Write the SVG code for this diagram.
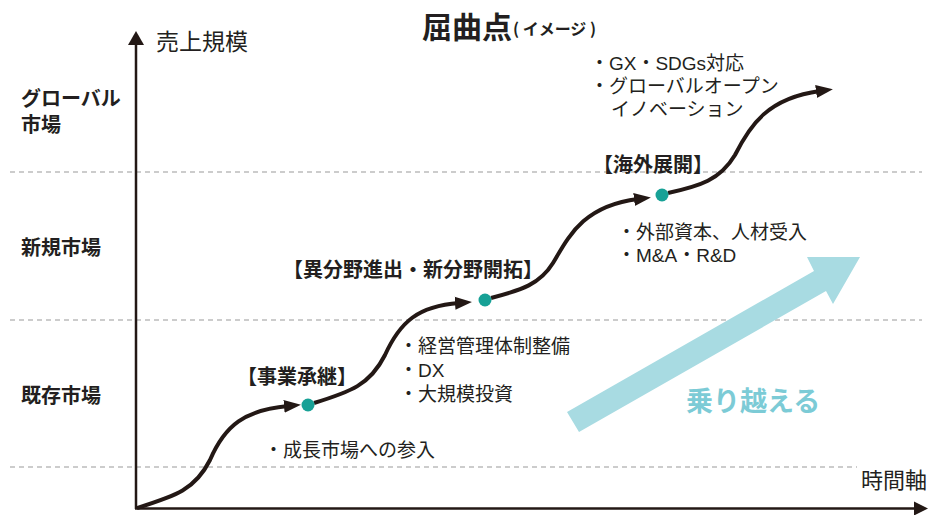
<svg xmlns="http://www.w3.org/2000/svg" width="930" height="515" viewBox="0 0 930 515">
<defs>
<style>
.t{font-family:"Noto Sans CJK JP","Noto Sans",sans-serif;fill:#231f20}
.b{font-weight:700}
.bul{font-size:19px;font-family:"Liberation Sans","Noto Sans CJK JP",sans-serif}
.brk{font-size:20px;font-weight:700}
.lbl{font-size:20px;font-weight:700}
.dash{stroke:#9a9a9a;stroke-width:1.2;stroke-dasharray:5 4;fill:none}
.curve{stroke:#231815;stroke-width:4;fill:none;marker-end:url(#ah)}
.dot{fill:#17a196}
</style>
<marker id="ah" markerUnits="userSpaceOnUse" markerWidth="18" markerHeight="16" viewBox="0 0 18 16" refX="4" refY="8" orient="auto">
<path d="M0,1.5 L17,8 L0,14.5 z" fill="#231815"/>
</marker>
</defs>
<rect width="930" height="515" fill="#fff"/>

<g id="grid">
<line class="dash" x1="10" y1="172" x2="922" y2="172"/>
<line class="dash" x1="10" y1="320" x2="922" y2="320"/>
<line class="dash" x1="10" y1="467" x2="857" y2="467"/>
</g>

<g id="axes">
<line x1="136" y1="509" x2="136" y2="44" stroke="#231815" stroke-width="2.5"/>
<path d="M136,31 L128,45 L144,45 z" fill="#231815"/>
<line x1="135" y1="508.5" x2="916" y2="508.5" stroke="#231815" stroke-width="2.5"/>
<path d="M928,508.5 L914,501.5 L914,515.5 z" fill="#231815"/>
<text class="t" x="156" y="50" font-size="23">売上規模</text>
<text class="t" x="861" y="488" font-size="22">時間軸</text>
</g>

<g id="title">
<text class="t b" x="422" y="38" font-size="30">屈曲点<tspan font-size="16" dx="1" dy="-3">( イメージ )</tspan></text>
</g>

<g id="market-labels">
<text class="t lbl"><tspan x="21" y="106">グローバル</tspan><tspan x="21" dy="26">市場</tspan></text>
<text class="t lbl" x="21" y="255">新規市場</text>
<text class="t lbl" x="21" y="403">既存市場</text>
</g>

<g id="big-arrow">
<polygon points="567,412 814,271 807,257 860,257 833,304 826,291 579,432" fill="#a8dbe2"/>
<text class="t b" x="686" y="411" font-size="27" style="fill:#7ccbd6">乗り越える</text>
</g>

<g id="connectors">
<path class="curve" d="M137,508 C175,496 195,490 210,460 C225,425 245,410 288,406"/>
<path class="curve" d="M314,403 C350,392 370,385 385,355 C400,322 418,306 459,303"/>
<path class="curve" d="M491,298 C522,290 540,284 553,263 C568,238 582,206 638,199"/>
<path class="curve" d="M668,193 C700,186 720,180 735,155 C750,125 768,98 820,91"/>
</g>

<g id="node-jigyo">
<circle class="dot" cx="308" cy="405" r="6.5"/>
<text class="t brk" x="237" y="384">【事業承継】</text>
<text class="t bul" x="264" y="457">・成長市場への参入</text>
</g>

<g id="node-ibunya">
<circle class="dot" cx="485" cy="300" r="6.5"/>
<text class="t brk" x="283" y="277">【異分野進出・新分野開拓】</text>
<text class="t bul" x="399" y="353">・経営管理体制整備</text>
<text class="t bul" x="399" y="377">・DX</text>
<text class="t bul" x="399" y="401">・大規模投資</text>
</g>

<g id="node-kaigai">
<circle class="dot" cx="662" cy="195" r="6.5"/>
<text class="t brk" x="593" y="172">【海外展開】</text>
<text class="t bul" x="617" y="239">・外部資本、人材受入</text>
<text class="t bul" x="617" y="262">・M&amp;A・R&amp;D</text>
</g>

<g id="node-global">
<text class="t bul" x="590" y="70">・GX・SDGs対応</text>
<text class="t bul" x="590" y="93">・グローバルオープン</text>
<text class="t bul" x="611" y="116">イノベーション</text>
</g>
</svg>
